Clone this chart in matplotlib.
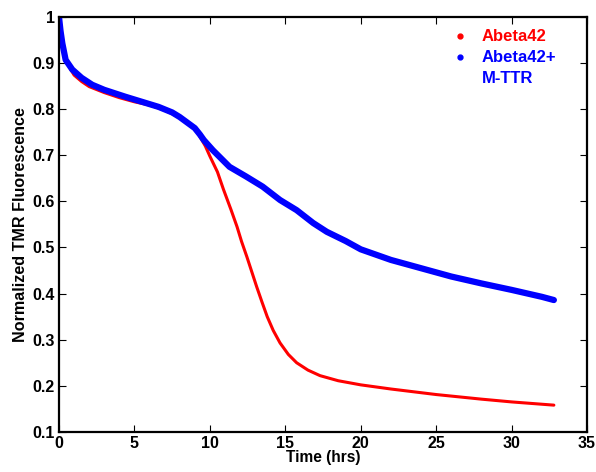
import matplotlib.pyplot as plt
from matplotlib.lines import Line2D

plt.rcParams['font.family'] = ['Liberation Sans', 'DejaVu Sans']
plt.rcParams['font.weight'] = 'bold'

# Values (time in hrs, normalized fluorescence)
time_red = [0, 0.1, 0.25, 0.5, 0.8, 1, 1.5, 2, 3, 4, 5, 6, 7, 8, 9, 9.7,
            10.0, 10.5, 10.9, 11.4, 11.8, 12.1, 12.45, 12.8, 13.1, 13.45,
            13.8, 14.2, 14.65, 15.2, 15.75, 16.5, 17.3, 18.5, 20, 22, 25, 28,
            30, 32.8]
abeta42 = [1.0, 0.965, 0.935, 0.905, 0.885, 0.874, 0.86, 0.849, 0.836, 0.825,
           0.816, 0.809, 0.798, 0.782, 0.76, 0.72, 0.698, 0.664, 0.626, 0.582,
           0.545, 0.513, 0.48, 0.445, 0.415, 0.382, 0.35, 0.32, 0.293, 0.268,
           0.25, 0.234, 0.222, 0.211, 0.202, 0.193, 0.181, 0.171, 0.165,
           0.158]

time_blue = [0, 0.1, 0.22, 0.44, 0.88, 1.5, 2.2, 3, 4.4, 5.5, 6.6, 7.5, 8,
             9, 9.34, 9.6, 10.2, 11.3, 12.4, 13.5, 14.65, 15.75, 16.85, 17.75,
             19, 20, 22, 24, 25, 26, 28, 30, 32, 32.8]
abeta42_mttr = [1.0, 0.97, 0.943, 0.907, 0.886, 0.868, 0.853, 0.842, 0.827,
                0.816, 0.805, 0.793, 0.783, 0.759, 0.745, 0.733, 0.711, 0.675,
                0.654, 0.632, 0.603, 0.581, 0.553, 0.534, 0.514, 0.496, 0.473,
                0.455, 0.446, 0.437, 0.422, 0.408, 0.393, 0.386]

fig = plt.figure(figsize=(5.96, 4.72), dpi=100)
ax = fig.add_axes([0.099, 0.085, 0.886, 0.879])

ax.plot(time_red, abeta42, color='#ff0000', lw=2.2, solid_capstyle='round')
ax.plot(time_blue, abeta42_mttr, color='#0000ff', lw=4.5, solid_capstyle='round')

ax.set_xlim(0, 35)
ax.set_ylim(0.1, 1.0)
ax.set_xticks([0, 5, 10, 15, 20, 25, 30, 35])
ax.set_yticks([0.1, 0.2, 0.3, 0.4, 0.5, 0.6, 0.7, 0.8, 0.9, 1.0])
ax.set_yticklabels(['0.1', '0.2', '0.3', '0.4', '0.5', '0.6', '0.7', '0.8', '0.9', '1'])
ax.tick_params(direction='in', top=True, right=True, length=5, width=0.8,
               labelsize=11.5, pad=3)
for lab in ax.get_xticklabels() + ax.get_yticklabels():
    lab.set_fontweight('bold')
for sp in ax.spines.values():
    sp.set_linewidth(1.6)

ax.set_xlabel('Time (hrs)', fontsize=11.2, fontweight='bold', labelpad=-1)
ax.set_ylabel('Normalized TMR Fluorescence', fontsize=11.6, fontweight='bold', labelpad=3)

# legend: dot next to first line of each label
handles = [Line2D([], [], ls='none', marker='.', color='#ff0000', ms=7),
           Line2D([], [], ls='none', marker='.', color='#0000ff', ms=7),
           Line2D([], [], ls='none')]
ax.legend(handles, ['Abeta42', 'Abeta42+', 'M-TTR'], loc='upper left',
          bbox_to_anchor=(0.7285, 0.99), frameon=False, borderpad=0,
          handlelength=1.0, handletextpad=0.78, labelspacing=0.36,
          labelcolor=['#ff0000', '#0000ff', '#0000ff'],
          prop={'weight': 'bold', 'size': 12})

fig.savefig('out.png', dpi=100)
